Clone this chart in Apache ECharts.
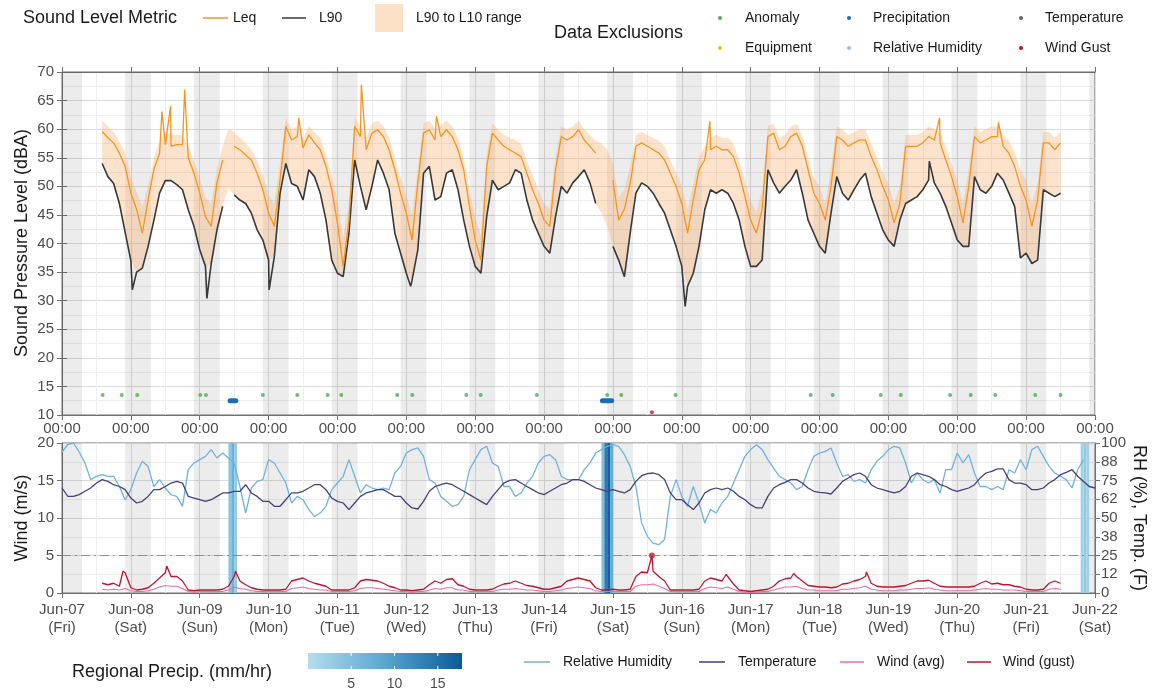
<!DOCTYPE html>
<html>
<head>
<meta charset="utf-8">
<script src="https://cdn.jsdelivr.net/npm/echarts@6/dist/echarts.min.js"></script>
<style>
  html, body { margin: 0; padding: 0; background: #fff; }
  #chart { width: 1154px; height: 692px; }
</style>
</head>
<body>
<div id="chart"></div>
<script>
// x axis is "hours since Jun-07 00:00", readings every 2 hours
const T0 = Date.UTC(2024, 5, 7);
const STEP = 2;
const dayNames = ['Sun', 'Mon', 'Tue', 'Wed', 'Thu', 'Fri', 'Sat'];

// ---- sound levels, 2-hourly from Jun-07 14:00 to Jun-21 12:00 ----
const soundStart = '06-07 14:00';
const leq = [59.6,58.5,57.6,55.8,53.5,
  48.8,46.0,41.8,47.6,52.9,55.8,57.3,57.0,57.3,57.3,55.0,52.3,
  48.8,44.7,43.0,50.6,54.6,58.1,57.0,56.4,55.5,54.6,52.3,49.4,
  45.3,43.0,51.1,60.5,58.1,58.7,56.7,59.0,57.6,56.4,53.5,49.4,
  43.6,36.0,44.0,60.5,58.7,56.4,59.3,59.9,58.7,56.4,52.9,48.8,
  45.3,40.6,50.6,59.3,59.9,58.1,58.7,59.9,58.7,56.4,52.9,46.5,
  40.6,37.1,53.5,59.3,58.1,57.0,56.4,55.8,55.2,52.3,49.4,47.0,
  44.1,43.0,52.9,58.7,58.1,58.7,59.9,58.1,57.0,55.8,54.6,52.5,
  51.1,44.1,46.0,50.5,57.0,57.6,57.0,56.4,55.8,54.6,52.3,50.0,
  47.0,41.8,47.6,52.9,54.6,56.4,57.0,56.4,56.4,55.2,52.3,48.2,
  44.1,41.8,46.0,58.7,59.3,56.4,57.0,58.7,59.3,57.0,52.9,48.8,
  47.0,44.1,50.0,58.7,58.1,57.0,57.6,58.1,58.1,55.2,52.9,50.0,
  47.6,43.6,47.0,57.0,57.0,57.0,57.6,58.7,58.1,57.6,54.6,51.7,
  48.2,43.6,50.0,58.7,57.6,58.1,58.7,58.7,57.0,55.8,53.5,50.0,
  47.6,43.0,47.6,57.6,57.6,56.4,57.6];
const l90 = [54.0,51.7,50.5,47.0,42.0,
  37.0,35.0,35.7,39.5,44.0,48.8,51.0,51.0,50.3,49.4,45.9,43.0,
  38.9,36.0,36.5,42.4,46.5,49.7,48.5,47.6,47.0,45.3,42.4,40.6,
  37.1,37.7,48.8,54.0,50.5,50.0,47.6,52.9,51.7,48.8,44.1,37.1,
  34.8,34.2,41.8,54.6,50.0,45.9,50.0,54.6,52.3,49.4,41.8,38.3,
  34.8,33.6,38.9,52.3,53.5,47.6,48.2,52.3,52.9,49.4,44.1,39.5,
  36.0,34.8,44.7,51.1,49.4,50.0,50.6,52.9,52.3,47.6,44.1,41.8,
  39.5,38.3,44.7,50.0,48.8,50.6,51.7,52.9,50.6,47.0,45.3,43.0,
  39.5,37.1,34.2,41.8,48.8,50.6,50.0,48.8,47.0,45.3,42.4,39.5,
  36.0,32.5,34.8,39.5,45.9,49.4,48.8,49.4,48.8,47.0,44.1,39.5,
  36.0,36.0,37.1,52.9,50.6,48.8,50.0,51.1,52.9,48.8,44.1,41.8,
  39.5,38.3,45.3,51.7,48.8,47.6,49.4,51.1,52.3,48.2,45.3,42.4,
  40.6,39.5,44.1,47.0,47.6,48.2,49.4,51.1,50.6,48.8,46.5,43.6,
  40.6,39.5,39.5,51.7,49.4,48.8,50.0,52.3,51.1,48.8,46.5,37.5,
  38.3,36.5,37.1,49.4,48.8,48.2,48.8];
const l10 = [61.5,60.5,59.5,57.8,56.0,
  51.5,49.0,46.5,50.0,55.0,58.0,59.5,59.0,59.0,59.0,57.0,54.5,
  51.5,48.0,47.0,53.0,57.0,60.0,59.5,58.5,57.5,56.5,54.5,52.0,
  48.5,47.0,54.0,62.0,60.0,60.5,58.5,60.5,59.5,58.5,55.5,52.0,
  47.5,41.0,47.0,62.0,60.5,58.5,61.0,61.5,60.5,58.5,55.0,51.5,
  48.5,45.0,53.0,61.0,61.5,60.0,60.5,61.5,60.5,58.5,55.0,49.5,
  44.5,41.5,55.5,61.0,60.0,59.0,58.5,58.0,57.5,54.5,52.0,49.5,
  47.0,46.0,55.0,60.5,60.0,60.5,61.5,60.0,59.0,58.0,57.5,56.5,
  54.0,48.0,49.5,53.5,59.0,59.5,59.0,58.5,58.0,57.0,54.5,52.5,
  50.0,46.0,50.5,55.0,57.0,58.5,59.0,58.5,58.5,57.5,54.5,51.0,
  47.5,45.5,49.5,60.5,61.0,58.5,59.0,60.5,61.0,59.0,55.0,51.5,
  50.0,47.0,53.0,60.5,60.0,59.0,59.5,60.0,60.0,57.5,55.0,52.5,
  50.5,47.0,50.0,59.0,59.0,59.0,59.5,60.5,60.0,59.5,57.0,54.0,
  51.0,47.0,53.0,60.5,59.5,60.0,60.5,60.5,59.0,58.0,56.0,53.0,
  51.0,47.0,50.5,59.5,59.5,58.5,59.5];
// short peaks / dips between the 2-hour readings
const leqSpikes = [['06-08 10:50',63.1],['06-08 13:50',64.0],['06-08 18:45',66.9],['06-10 10:30',62.0],
  ['06-11 08:20',67.8],['06-12 10:30',62.3],['06-16 09:50',61.4],['06-19 17:50',62.0],['06-20 14:20',61.2]];
const l90Spikes = [['06-08 00:30',31.9],['06-09 02:30',30.4],['06-10 00:10',31.9],['06-12 01:30',32.5],
  ['06-16 01:10',29.0],['06-19 14:15',54.4]];
// where the Leq / L90 lines are missing
const lineGaps = [['06-09 09:00','06-09 11:00'], ['06-14 19:00','06-14 23:30']];

// ---- data exclusions ----
const anomalyTimes = ['06-07 14:10','06-07 20:50','06-08 02:15','06-09 00:10','06-09 02:10','06-09 22:00',
  '06-10 10:00','06-10 20:35','06-11 01:20','06-11 20:50','06-12 02:05','06-12 20:55','06-13 01:55',
  '06-13 21:30','06-14 22:00','06-15 02:55','06-15 21:50','06-17 20:55','06-18 04:35','06-18 21:20',
  '06-19 04:20','06-19 21:30','06-20 04:40','06-20 13:15','06-21 03:10','06-21 12:00'];
const precipExcl = [['06-09 10:35','06-09 12:35'], ['06-14 20:20','06-14 23:35']];
const gustExclTimes = ['06-15 13:35'];

// ---- weather, 2-hourly from Jun-07 00:00 to Jun-22 00:00 ----
const weatherStart = '06-07 00:00';
const rh = [94,99,100,94,86.7,75.6,77.8,78.9,77.8,77.8,71,62,
  68.9,80,87.8,84.4,71,75.6,70,65.5,64.4,57.8,82.2,86.7,
  88.9,91.1,95.6,90,93.3,90,86.7,71,53.3,70,74.4,75.6,
  88.9,86.7,80,73.3,60,64.4,62.2,55.6,51.1,53.3,57.8,68.9,
  73.3,77.8,88.9,77.8,66.7,72.2,70,68.9,70,68.9,80,84.4,
  93.3,95.6,96.7,91.1,75.6,73.3,64.4,61.1,57.8,58.9,64.4,82.2,
  88.9,95.6,97.8,86.7,84.4,71,71,64.4,66.7,73.3,77.8,86.7,
  91.1,92.2,88.9,77.8,75.6,75.6,75.6,82.2,86.7,93.3,95.6,97.8,
  98.9,97.8,92.2,84.4,71,46.7,37.8,33.3,32.2,35.6,64.4,75.6,
  64.4,57.8,71,60,46.7,55.6,53.3,60,64.4,73.3,82.2,91.1,
  95.6,98.9,95.6,88.9,83.3,77.8,75.6,73.3,68.9,71,82.2,91.1,
  93.3,94.4,96.7,86.7,77.8,78.9,74.4,75.6,73.3,82.2,87.8,91.1,
  95.6,97.8,96.7,86.7,73.3,80,75.6,73.3,75.6,66.7,82.2,82.2,
  93.3,86.7,92.2,80,71,71,68.9,71,68.9,82.2,80,88.9,
  82.2,95.6,97.8,91.1,84.4,80,77.8,75.6,70,82.2,88.9,null,
  null];
const tempF = [70,64.5,64.4,65.6,67.8,70,73.3,75.6,74.4,72.2,71,68.9,
  63.3,60,61.1,64.4,68.9,68.9,71,73.3,74.4,73.3,64.4,63.3,
  62.2,61.1,62.2,64.4,66.7,66.7,67.8,67.8,72.2,66.7,64.4,61.1,
  61.1,57.8,57.8,62.2,66.7,66.7,67.8,70,72.2,72.2,68.9,63.3,
  61.1,60,55.6,60,64.4,66.7,67.8,68.9,68.9,66.7,64.4,64.4,
  60,56.7,56,61.1,67.8,71,72.2,73.3,72.2,70,67.8,65.6,
  63.3,61.1,58.9,64.4,68.9,73.3,75.1,75.6,73.3,71,68.9,66.7,
  65.6,67.8,70,72.2,73.3,75.6,75.6,74.4,72.2,70,68.9,67.8,
  68.9,67.8,66.7,68.9,74.4,78.2,79.6,80,78.9,75.6,66.7,62.2,
  62.2,58.9,55.6,60,66.7,68.9,70,68.9,70,67.8,64.4,62.2,
  58.9,56.7,56.7,64.4,70,72.2,73.8,75.6,75.6,73.3,70,67.8,
  67.1,66.7,66,70,74.4,76.7,78.9,80,77.8,72.2,70,68.9,
  67.8,66.7,67.8,71,77.8,80,78.9,77.8,75.6,72.2,71,68.9,
  67.8,68.9,70,72.2,76.7,80,81.1,82.7,82.7,75.6,73.3,73.3,
  72.2,68.9,68.9,70,73.3,75.6,78.9,80.4,82.2,77.8,74.4,71,
  70];

// wind (m/s), 2-hourly from Jun-07 14:00 to Jun-21 12:00
const windStart = '06-07 14:00';
const windGust = [1.3,1.1,1.3,0.9,2.7,
  0.7,0.4,0.5,0.7,1.3,2.0,2.7,2.2,2.2,1.6,0.4,0.3,
  0.4,0.4,0.4,0.4,0.5,0.9,2.2,1.6,1.1,0.7,0.5,0.4,
  0.4,0.4,0.4,0.5,1.6,1.8,2.0,1.6,1.3,1.1,0.9,0.4,
  0.4,0.4,0.4,0.7,1.6,1.8,1.7,1.6,1.3,0.9,0.7,0.4,
  0.4,0.3,0.4,0.5,1.1,1.6,1.3,1.8,1.9,1.1,0.9,0.5,
  0.4,0.4,0.4,0.5,0.9,1.2,1.3,1.6,1.3,1.0,0.9,0.7,
  0.5,0.5,0.7,0.9,1.6,1.8,2.0,1.8,1.6,0.7,0.4,0.4,
  0.5,0.4,0.4,0.5,2.2,2.8,2.7,2.9,2.2,1.6,0.4,0.4,
  0.4,0.4,0.4,0.5,1.6,2.0,1.8,1.6,2.2,1.2,0.4,0.3,
  0.2,0.3,0.4,0.5,0.9,1.6,1.9,2.0,2.2,1.6,1.0,0.9,
  0.8,0.8,0.7,0.8,1.2,1.3,1.6,1.8,2.2,1.3,0.9,0.8,
  0.8,0.8,0.9,1.0,1.3,1.6,1.6,1.7,1.3,0.9,0.8,0.8,
  0.8,0.8,0.8,0.9,1.3,1.6,1.2,1.3,1.1,1.1,0.9,0.8,
  0.5,0.4,0.4,0.5,1.3,1.6,1.3];
const windAvg = [0.5,0.4,0.5,0.4,0.6,
  0.3,0.2,0.2,0.3,0.5,0.8,1.0,0.9,0.9,0.6,0.2,0.1,
  0.2,0.2,0.2,0.2,0.2,0.4,0.8,0.6,0.5,0.3,0.2,0.2,
  0.2,0.2,0.2,0.2,0.6,0.7,0.8,0.6,0.5,0.4,0.4,0.2,
  0.2,0.2,0.2,0.3,0.6,0.7,0.7,0.6,0.5,0.4,0.3,0.2,
  0.2,0.1,0.2,0.2,0.4,0.6,0.5,0.7,0.7,0.4,0.4,0.2,
  0.2,0.2,0.2,0.2,0.4,0.5,0.5,0.6,0.5,0.4,0.4,0.3,
  0.2,0.2,0.3,0.4,0.6,0.7,0.8,0.7,0.6,0.3,0.2,0.2,
  0.2,0.2,0.2,0.2,0.9,1.1,1.1,1.2,0.9,0.6,0.2,0.2,
  0.2,0.2,0.2,0.2,0.6,0.8,0.7,0.6,0.8,0.5,0.2,0.1,
  0.1,0.1,0.2,0.2,0.4,0.6,0.8,0.8,0.9,0.6,0.4,0.4,
  0.3,0.3,0.3,0.3,0.5,0.5,0.6,0.7,0.9,0.5,0.4,0.3,
  0.3,0.3,0.4,0.4,0.5,0.6,0.6,0.7,0.5,0.4,0.3,0.3,
  0.3,0.3,0.3,0.4,0.5,0.6,0.5,0.5,0.4,0.4,0.4,0.3,
  0.2,0.2,0.2,0.2,0.5,0.6,0.5];
const gustSpikes = [['06-07 21:15',2.9],['06-08 12:30',3.6],['06-09 12:30',2.9],['06-15 13:35',5.0],
  ['06-16 15:30',2.5],['06-17 15:00',2.6],['06-18 16:20',2.8]];
const gustLimit = 5;

// regional precipitation, hourly (mm/hr)
const precipHours = ['06-09 10:00','06-09 11:00','06-09 12:00','06-14 20:00','06-14 21:00','06-14 22:00',
  '06-14 23:00','06-21 19:00','06-21 20:00','06-21 21:00'];
const precipRate = [4, 7, 3, 5, 14, 17, 8, 2, 3, 2];
const precipMax = 17.8;
const precipTicks = [5, 10, 15];

// ---- helpers ----
function hrs(s) {
  const [md, hm] = s.split(' ');
  const [mo, d] = md.split('-').map(Number);
  const [h, m] = hm.split(':').map(Number);
  return (Date.UTC(2024, mo - 1, d, h, m) - T0) / 3600000;
}
function onGrid(start, vals) {
  const h0 = hrs(start);
  return vals.map((v, i) => [h0 + i * STEP, v]);
}
function withSpikes(pts, spikes) {
  return pts.concat(spikes.map(p => [hrs(p[0]), p[1]])).sort((a, b) => a[0] - b[0]);
}
function cutGaps(pts, gaps) {
  const g = gaps.map(w => [hrs(w[0]), hrs(w[1])]);
  return pts.map(p => g.some(w => p[0] >= w[0] && p[0] <= w[1]) ? [p[0], null] : p);
}

const FONT = "'Liberation Sans', Arial, sans-serif";
const LEQ_C = '#f7941d', L90_C = '#383838', BAND_C = 'rgba(248,163,84,0.30)';
const RH_C = '#6fb3dc', TEMP_C = '#453f7a', WAVG_C = '#f06aa8', GUST_C = '#c0142c';
const EX_C = {anomaly: '#4cae4c', equip: '#f5b915', precip: '#1c6fae', rh: '#8ec5e2', temp: '#666666', gust: '#c8102e'};
const PRECIP_COLORS = ['#b6ddee', '#58a6d1', '#0b5a98'];
const AX_C = '#707070', LBL_C = '#4d4d4d';

// night shading 22:00 - 07:00
const nightData = [];
for (let d = -1; d < 15; d++) nightData.push([Math.max(0, d * 24 + 22), Math.min(360, d * 24 + 31)]);

const bandLow = onGrid(soundStart, l90);
const bandHigh = onGrid(soundStart, l10);
const leqPts = cutGaps(withSpikes(onGrid(soundStart, leq), leqSpikes), lineGaps);
const l90Pts = cutGaps(withSpikes(onGrid(soundStart, l90), l90Spikes), lineGaps);

function nightItem(params, api) {
  const cs = params.coordSys;
  const x0 = api.coord([api.value(0), 0])[0];
  const x1 = api.coord([api.value(1), 0])[0];
  const shape = echarts.graphic.clipRectByRect(
    {x: x0, y: cs.y, width: x1 - x0, height: cs.height},
    {x: cs.x, y: cs.y, width: cs.width, height: cs.height});
  return shape && {type: 'rect', shape: shape, style: {fill: 'rgba(0,0,0,0.075)'}};
}

const chart = echarts.init(document.getElementById('chart'));

const axisBase = {
  axisLine: {show: true, lineStyle: {color: AX_C}},
  axisTick: {show: true, length: 5, lineStyle: {color: AX_C}},
  axisLabel: {color: LBL_C, fontSize: 15, fontFamily: FONT},
  splitLine: {show: false}
};
const xGrid = {
  splitLine: {show: true, lineStyle: {color: '#dcdcdc'}},
  minorTick: {show: false, splitNumber: 2},
  minorSplitLine: {show: true, lineStyle: {color: '#ededed'}}
};

const series = [
  {type: 'custom', xAxisIndex: 0, yAxisIndex: 0, data: nightData, renderItem: nightItem, silent: true},
  {type: 'custom', xAxisIndex: 2, yAxisIndex: 2, data: nightData, renderItem: nightItem, silent: true},
  {type: 'custom', xAxisIndex: 0, yAxisIndex: 0, data: [[0, 10]], silent: true, clip: true,
    renderItem: (params, api) => {
      const pts = bandLow.map(p => api.coord(p)).concat(bandHigh.slice().reverse().map(p => api.coord(p)));
      return {type: 'polygon', shape: {points: pts}, style: {fill: BAND_C}};
    }},
  {type: 'line', name: 'L90', xAxisIndex: 0, yAxisIndex: 0, data: l90Pts, symbol: 'none',
    lineStyle: {color: L90_C, width: 1.6}, itemStyle: {color: L90_C}},
  {type: 'line', name: 'Leq', xAxisIndex: 0, yAxisIndex: 0, data: leqPts, symbol: 'none',
    lineStyle: {color: LEQ_C, width: 1.3}, itemStyle: {color: LEQ_C}},
  {type: 'scatter', xAxisIndex: 0, yAxisIndex: 0, symbolSize: 4, itemStyle: {color: EX_C.anomaly},
    data: anomalyTimes.map(t => [hrs(t), 13.5])},
  {type: 'custom', xAxisIndex: 0, yAxisIndex: 0, silent: true,
    data: precipExcl.map(w => [hrs(w[0]), hrs(w[1])]),
    renderItem: (params, api) => {
      const p0 = api.coord([api.value(0), 12.5]), p1 = api.coord([api.value(1), 12.5]);
      return {type: 'line', shape: {x1: p0[0], y1: p0[1], x2: p1[0], y2: p1[1]},
        style: {stroke: EX_C.precip, lineWidth: 5, lineCap: 'round'}};
    }},
  {type: 'scatter', xAxisIndex: 0, yAxisIndex: 0, symbolSize: 4, itemStyle: {color: EX_C.gust},
    data: gustExclTimes.map(t => [hrs(t), 10.5])},
  {type: 'line', name: 'Relative Humidity', xAxisIndex: 2, yAxisIndex: 3, data: onGrid(weatherStart, rh),
    symbol: 'none', lineStyle: {color: RH_C, width: 1.3}},
  {type: 'line', name: 'Temperature', xAxisIndex: 2, yAxisIndex: 3, data: onGrid(weatherStart, tempF),
    symbol: 'none', lineStyle: {color: TEMP_C, width: 1.3}},
  {type: 'custom', name: 'precip', xAxisIndex: 2, yAxisIndex: 2, silent: true,
    data: precipHours.map((t, i) => [hrs(t), hrs(t) + 1, precipRate[i]]),
    renderItem: (params, api) => {
      const a = api.coord([api.value(0), 20]), b = api.coord([api.value(1), 0]);
      return {type: 'rect', shape: {x: a[0], y: a[1], width: b[0] - a[0], height: b[1] - a[1]},
        style: {fill: api.visual('color')}};
    }},
  {type: 'line', name: 'Wind (avg)', xAxisIndex: 2, yAxisIndex: 2, data: onGrid(windStart, windAvg),
    symbol: 'none', lineStyle: {color: WAVG_C, width: 1.2}},
  {type: 'line', name: 'Wind (gust)', xAxisIndex: 2, yAxisIndex: 2,
    data: withSpikes(onGrid(windStart, windGust), gustSpikes),
    symbol: 'none', lineStyle: {color: GUST_C, width: 1.3}},
  // gust threshold line, drawn through the wind axis
  {type: 'line', xAxisIndex: 2, yAxisIndex: 2, symbol: 'none', silent: true,
    data: [[0, gustLimit], [360, gustLimit]],
    lineStyle: {color: '#d2505f', opacity: 0.75, type: [9, 4, 2, 4], width: 1.1}},
  {type: 'scatter', xAxisIndex: 2, yAxisIndex: 2, symbolSize: 6, itemStyle: {color: GUST_C},
    data: gustSpikes.filter(p => p[1] >= gustLimit).map(p => [hrs(p[0]), p[1]])}
];
const precipIndex = series.findIndex(s => s.name === 'precip');

// legends and axis titles
const txt = (x, y, text, size, extra) => Object.assign({type: 'text', x: x, y: y,
  style: {text: text, fontSize: size, fontFamily: FONT, fill: '#1a1a1a', verticalAlign: 'middle'}}, extra || {});
const hline = (x1, x2, y, color) => ({type: 'line', shape: {x1: x1, y1: y, x2: x2, y2: y},
  style: {stroke: color, lineWidth: 1.5}});
const dot = (x, y, color) => ({type: 'circle', shape: {cx: x, cy: y, r: 2}, style: {fill: color}});

const cbX = 308, cbY = 653, cbW = 154, cbH = 16;
const graphics = [
  txt(23, 18, 'Sound Level Metric', 18),
  hline(203, 228, 18, LEQ_C), txt(233, 18, 'Leq', 14),
  hline(282, 306, 18, L90_C), txt(319, 18, 'L90', 14),
  {type: 'rect', shape: {x: 375, y: 4, width: 28, height: 28}, style: {fill: '#fce1c6'}},
  txt(416, 18, 'L90 to L10 range', 14),
  txt(554, 33, 'Data Exclusions', 18),
  dot(720, 18, EX_C.anomaly), txt(745, 18, 'Anomaly', 14),
  dot(849, 18, EX_C.precip), txt(873, 18, 'Precipitation', 14),
  dot(1021, 18, EX_C.temp), txt(1045, 18, 'Temperature', 14),
  dot(720, 48, EX_C.equip), txt(745, 48, 'Equipment', 14),
  dot(849, 48, EX_C.rh), txt(873, 48, 'Relative Humidity', 14),
  dot(1021, 48, EX_C.gust), txt(1045, 48, 'Wind Gust', 14),
  txt(22, 243, 'Sound Pressure Level (dBA)', 18, {rotation: Math.PI / 2}),
  txt(22, 518, 'Wind (m/s)', 18, {rotation: Math.PI / 2}),
  txt(1139, 518, 'RH (%), Temp. (F)', 18, {rotation: -Math.PI / 2}),
  txt(72, 672, 'Regional Precip. (mm/hr)', 18),
  {type: 'rect', shape: {x: cbX, y: cbY, width: cbW, height: cbH},
    style: {fill: new echarts.graphic.LinearGradient(0, 0, 1, 0,
      PRECIP_COLORS.map((c, i) => ({offset: i / (PRECIP_COLORS.length - 1), color: c})))}},
  hline(524, 550, 662, RH_C), txt(563, 662, 'Relative Humidity', 14),
  hline(699, 725, 662, TEMP_C), txt(738, 662, 'Temperature', 14),
  hline(840, 864, 662, WAVG_C), txt(877, 662, 'Wind (avg)', 14),
  hline(967, 991, 662, GUST_C), txt(1003, 662, 'Wind (gust)', 14)
];
precipTicks.forEach(v => {
  const x = cbX + v / precipMax * cbW;
  graphics.push({type: 'line', shape: {x1: x, y1: cbY, x2: x, y2: cbY + 3}, style: {stroke: '#fff', lineWidth: 1}});
  graphics.push({type: 'line', shape: {x1: x, y1: cbY + cbH - 3, x2: x, y2: cbY + cbH}, style: {stroke: '#fff', lineWidth: 1}});
  graphics.push(txt(x, 684, String(v), 14, {style: {text: String(v), fontSize: 14, fontFamily: FONT,
    fill: LBL_C, align: 'center', verticalAlign: 'middle'}}));
});
graphics.forEach(g => {
  if (g.type === 'text' && g.rotation) { g.style.align = 'center'; }
});

const rhLabels = {12.5: '12', 37.5: '38', 62.5: '62', 87.5: '88'};

chart.setOption({
  animation: false,
  backgroundColor: '#fff',
  textStyle: {fontFamily: FONT},
  grid: [
    {left: 62, top: 72, width: 1033, height: 343, show: true, borderColor: AX_C, borderWidth: 1},
    {left: 62, top: 443, width: 1033, height: 150, show: true, borderColor: AX_C, borderWidth: 1}
  ],
  xAxis: [
    Object.assign({}, axisBase, xGrid, {gridIndex: 0, type: 'value', min: 0, max: 360, interval: 24,
      axisLabel: Object.assign({}, axisBase.axisLabel, {margin: 6, formatter: () => '00:00'})}),
    Object.assign({}, axisBase, {gridIndex: 0, type: 'value', position: 'top', min: 0, max: 360, interval: 24,
      axisLabel: {show: false}}),
    Object.assign({}, axisBase, xGrid, {gridIndex: 1, type: 'value', min: 0, max: 360, interval: 24,
      axisLabel: Object.assign({}, axisBase.axisLabel, {margin: 8, lineHeight: 18,
        formatter: v => {
          const dt = new Date(T0 + v * 3600000);
          return 'Jun-' + String(dt.getUTCDate()).padStart(2, '0') + '\n(' + dayNames[dt.getUTCDay()] + ')';
        }})})
  ],
  yAxis: [
    Object.assign({}, axisBase, {gridIndex: 0, type: 'value', min: 10, max: 70, interval: 5,
      axisLabel: Object.assign({}, axisBase.axisLabel, {margin: 8}),
      splitLine: {show: true, lineStyle: {color: '#dcdcdc'}},
      minorTick: {show: false, splitNumber: 2},
      minorSplitLine: {show: true, lineStyle: {color: '#ededed'}}}),
    Object.assign({}, axisBase, {gridIndex: 0, type: 'value', position: 'right', min: 10, max: 70, interval: 5,
      axisLabel: {show: false}}),
    Object.assign({}, axisBase, {gridIndex: 1, type: 'value', min: 0, max: 20, interval: 5,
      axisLabel: Object.assign({}, axisBase.axisLabel, {margin: 8}),
      splitLine: {show: true, lineStyle: {color: '#dcdcdc'}},
      minorTick: {show: false, splitNumber: 2},
      minorSplitLine: {show: true, lineStyle: {color: '#ededed'}}}),
    Object.assign({}, axisBase, {gridIndex: 1, type: 'value', position: 'right', min: 0, max: 100, interval: 12.5,
      axisLabel: Object.assign({}, axisBase.axisLabel, {margin: 6,
        formatter: v => rhLabels[v] || String(v)})})
  ],
  visualMap: {show: false, type: 'continuous', seriesIndex: precipIndex, dimension: 2,
    min: 0, max: precipMax, inRange: {color: PRECIP_COLORS}},
  graphic: graphics,
  series: series
});

window.addEventListener('resize', function () { chart.resize(); });
</script>
</body>
</html>
